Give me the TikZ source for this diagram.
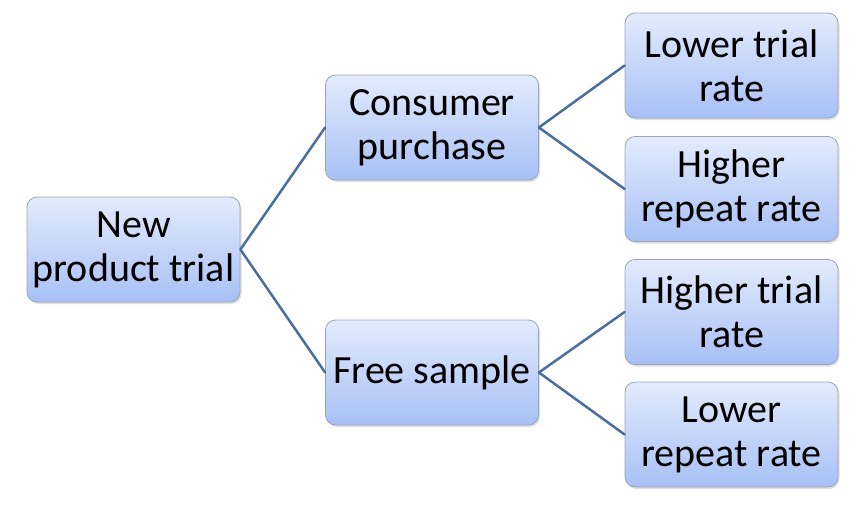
\documentclass[tikz,border=0pt]{standalone}
\usepackage{fontspec}
\setmainfont{Carlito}
\usetikzlibrary{shadows}
\definecolor{boxtop}{HTML}{E3EBFD}
\definecolor{boxbot}{HTML}{A7C0F5}
\definecolor{boxline}{HTML}{9AA6B8}
\definecolor{linkblue}{HTML}{4A6F9F}
\tikzset{
  box/.style={draw=boxline, line width=0.8pt, rounded corners=10pt, top color=boxtop, bottom color=boxbot,
    minimum width=213pt, minimum height=105pt, align=center, inner sep=2pt,
    font=\fontsize{40}{44}\selectfont,
    drop shadow={shadow xshift=1.5pt, shadow yshift=-2pt, opacity=0.25}},
  link/.style={draw=linkblue, line width=2.5pt}
}
\begin{document}
\begin{tikzpicture}[x=1pt, y=-1pt, line join=round, line cap=round]
	\useasboundingbox (0,0) rectangle (864,511);
	\def\xa{133.5} \def\xb{432} \def\xc{731.5}
	% boxes
	\node[box] (trial) at (\xa,249.5) {New\\product trial};
	\node[box] (purchase) at (\xb,127.5) {Consumer\\purchase};
	\node[box] (sample) at (\xb,372.5) {Free sample};
	\node[box] (lowtrial) at (\xc,65.5) {Lower trial\\rate};
	\node[box] (hirepeat) at (\xc,189) {Higher\\repeat rate};
	\node[box] (hitrial) at (\xc,312) {Higher trial\\rate};
	\node[box] (lowrepeat) at (\xc,434.5) {Lower\\repeat rate};
	% links
	\draw[link] (purchase.west) -- (trial.east) -- (sample.west);
	\draw[link] (lowtrial.west) -- (purchase.east) -- (hirepeat.west);
	\draw[link] (hitrial.west) -- (sample.east) -- (lowrepeat.west);
\end{tikzpicture}
\end{document}
